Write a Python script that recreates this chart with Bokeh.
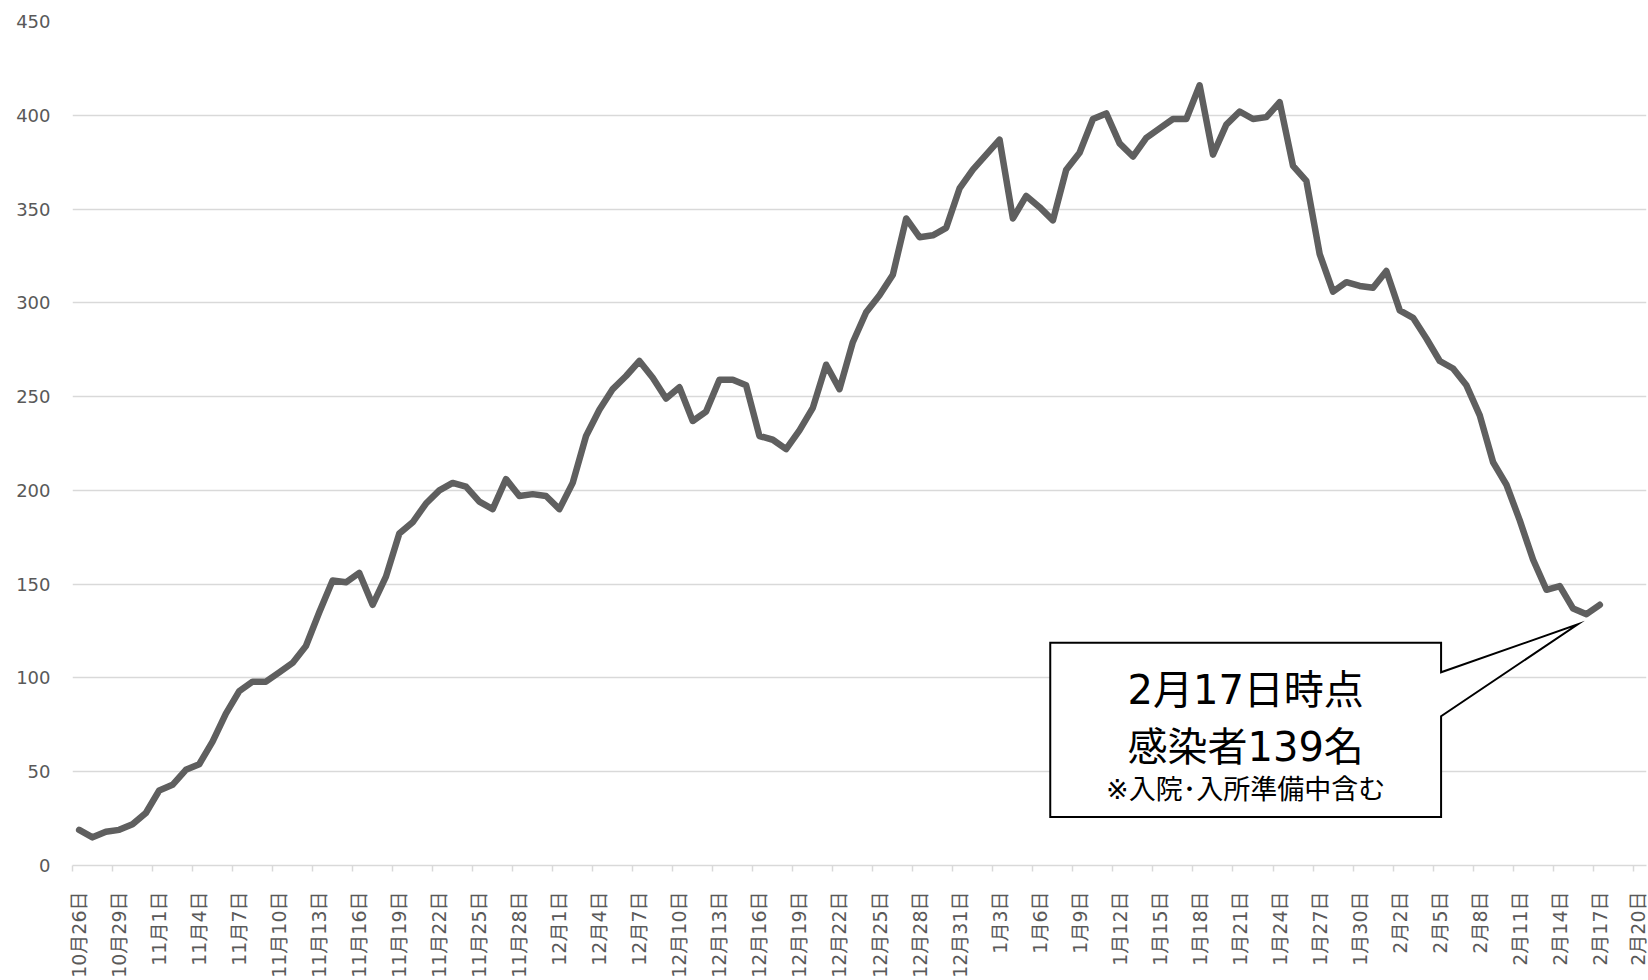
import math
import numpy as np
from bokeh.plotting import figure
from bokeh.models import Range1d, FixedTicker, ColumnDataSource
from bokeh.core.properties import value
from bokeh.embed import file_html
from bokeh.resources import INLINE

# ---- data: daily number of infected people, 10/26 .. 2/17 ----
infected = [19, 15, 18, 19, 22, 28, 40, 43, 51, 54,
            66, 81, 93, 98, 98, 103, 108, 117, 135, 152,
            151, 156, 139, 154, 177, 183, 193, 200, 204, 202,
            194, 190, 206, 197, 198, 197, 190, 204, 229, 243,
            254, 261, 269, 260, 249, 255, 237, 242, 259, 259,
            256, 229, 227, 222, 232, 244, 267, 254, 279, 295,
            304, 315, 345, 335, 336, 340, 361, 371, 379, 387,
            345, 357, 351, 344, 371, 380, 398, 401, 385, 378,
            388, 393, 398, 398, 416, 379, 395, 402, 398, 399,
            407, 373, 365, 326, 306, 311, 309, 308, 317, 296,
            292, 281, 269, 265, 256, 240, 215, 203, 184, 163,
            147, 149, 137, 134, 139]

# x-axis: one category per day from 10/26 to 2/20, labelled every 3 days
tick_labels = ["10月26日", "10月29日",
               "11月1日", "11月4日", "11月7日", "11月10日", "11月13日",
               "11月16日", "11月19日", "11月22日", "11月25日", "11月28日",
               "12月1日", "12月4日", "12月7日", "12月10日", "12月13日", "12月16日",
               "12月19日", "12月22日", "12月25日", "12月28日", "12月31日",
               "1月3日", "1月6日", "1月9日", "1月12日", "1月15日", "1月18日",
               "1月21日", "1月24日", "1月27日", "1月30日",
               "2月2日", "2月5日", "2月8日", "2月11日", "2月14日", "2月17日", "2月20日"]
tick_step = 3
n_axis_days = 118

y_ticks = [0, 50, 100, 150, 200, 250, 300, 350, 400, 450]

note_lines = ["2月17日時点", "感染者139名", "※入院･入所準備中含む"]

# ---- styling ----
FONT = "DejaVu Sans, Noto Sans CJK JP"
GREY_TXT = "#595959"
GRID = "#d9d9d9"
LINE = "#5f5f5f"

p = figure(width=1648, height=980, output_backend="svg", toolbar_location=None,
           x_range=Range1d(0, n_axis_days), y_range=Range1d(0, 450),
           min_border_left=72, min_border_right=2, min_border_top=21,
           min_border_bottom=113)
p.outline_line_color = None
p.background_fill_color = "white"
p.border_fill_color = "white"

days = np.arange(len(infected)) + 0.5
src = ColumnDataSource(dict(x=days, y=infected))
p.line("x", "y", source=src, line_color=LINE, line_width=6.5,
       line_join="round", line_cap="round")

# y axis
p.yaxis.ticker = FixedTicker(ticks=y_ticks)
p.yaxis.axis_line_color = None
p.yaxis.major_tick_line_color = None
p.yaxis.major_tick_in = 0
p.yaxis.major_tick_out = 0
p.yaxis.minor_tick_line_color = None
p.yaxis.minor_tick_in = 0
p.yaxis.minor_tick_out = 0
p.yaxis.major_label_standoff = 22
p.yaxis.major_label_text_font = FONT
p.yaxis.major_label_text_font_size = "18px"
p.yaxis.major_label_text_color = GREY_TXT
p.ygrid.grid_line_color = GRID
p.ygrid.grid_line_width = 1.5
p.xgrid.grid_line_color = None

# x axis: labels at category centres, tick marks at category boundaries
boundaries = [k * tick_step for k in range(len(tick_labels))]
centres = [b + 0.5 for b in boundaries]
p.xaxis.ticker = FixedTicker(ticks=centres, minor_ticks=boundaries)
p.xaxis.major_label_overrides = {c: lab for c, lab in zip(centres, tick_labels)}
p.xaxis.major_label_orientation = math.pi / 2
p.xaxis.major_tick_in = 0
p.xaxis.major_tick_out = 0
p.xaxis.minor_tick_in = 0
p.xaxis.minor_tick_out = 6
p.xaxis.minor_tick_line_color = GRID
p.xaxis.minor_tick_line_width = 1.5
p.xaxis.axis_line_color = GRID
p.xaxis.axis_line_width = 1.5
p.xaxis.major_label_standoff = 20
p.xaxis.major_label_text_font = FONT
p.xaxis.major_label_text_font_size = "19px"
p.xaxis.major_label_text_color = GREY_TXT

# ---- callout (speech-bubble) pointing at the 2/17 value ----
bx0, bx1 = 73.3, 102.6     # box left / right (days)
by0, by1 = 25.9, 118.7     # box bottom / top (persons)
pb_hi, pb_lo = 103.0, 79.6  # pointer base on the box's right edge
tip_x, tip_y = 112.85, 128.6
p.patch([bx0, bx1, bx1, tip_x, bx1, bx1, bx0],
        [by1, by1, pb_hi, tip_y, pb_lo, by0, by0],
        fill_color="white", line_color="black", line_width=2, line_join="miter")

cx = (bx0 + bx1) / 2
p.text(x=[cx, cx], y=[93.5, 63.4], text=note_lines[:2],
       text_font=value(FONT), text_font_size="40px", text_color="black",
       text_align="center", text_baseline="middle")
p.text(x=[cx], y=[40.4], text=note_lines[2:],
       text_font=value(FONT), text_font_size="27px", text_color="black",
       text_align="center", text_baseline="middle")

open("out.html", "w").write(file_html(p, INLINE))
